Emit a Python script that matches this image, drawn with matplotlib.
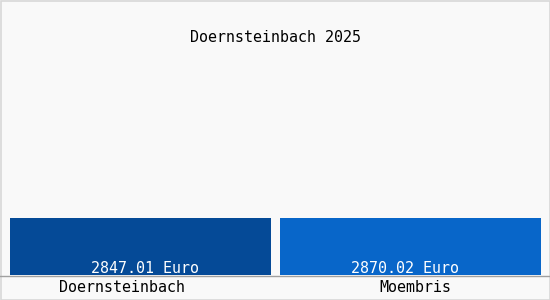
import matplotlib
matplotlib.use("Agg")
import matplotlib.pyplot as plt
from matplotlib.lines import Line2D
from matplotlib.patches import Rectangle

title = "Doernsteinbach 2025"
categories = ["Doernsteinbach", "Moembris"]
values = [2847.01, 2870.02]
value_labels = ["2847.01 Euro", "2870.02 Euro"]
colors = ["#054A97", "#0866C9"]

W, H = 550, 300
fig = plt.figure(figsize=(W / 100, H / 100), dpi=100)
fig.patch.set_facecolor("#F9F9F9")

ax = fig.add_axes([10 / W, (H - 275) / H, 531 / W, 215 / H])
ax.set_facecolor("none")
width = 0.9667
x = list(range(len(categories)))
ax.bar(x, values, width=width, color=colors)
ax.set_xlim(-width / 2, 1 + width / 2)
ax.set_ylim(0, 10750)
ax.axis("off")

mono = "DejaVu Sans Mono"
fs = 10.8
label_dx = [3, -4]
for xi, lab, dx in zip(x, value_labels, label_dx):
    ax.annotate(lab, (xi, 0), xytext=(dx, -1.0), textcoords="offset points",
                ha="center", va="bottom", color="white", fontsize=fs,
                family=mono)

fig.text(275 / W, 1 - 38 / H, title, ha="center", va="center", fontsize=fs,
         family=mono, color="black")

cat_x = [122.5 / W, 415.5 / W]
for xf, cat in zip(cat_x, categories):
    fig.text(xf, 1 - 288 / H, cat, ha="center", va="center", fontsize=fs,
             family=mono, color="black")

fig.add_artist(Line2D([0, 1], [(H - 275.5) / H] * 2, color="#A0A0A0", lw=1,
                      transform=fig.transFigure))
fig.add_artist(Rectangle((0.5 / W, 0.5 / H), 1 - 1 / W, 1 - 1 / H, fill=False,
                         edgecolor="#D8D8D8", lw=1.2, transform=fig.transFigure))

fig.savefig("out.png", dpi=100, facecolor=fig.get_facecolor())
